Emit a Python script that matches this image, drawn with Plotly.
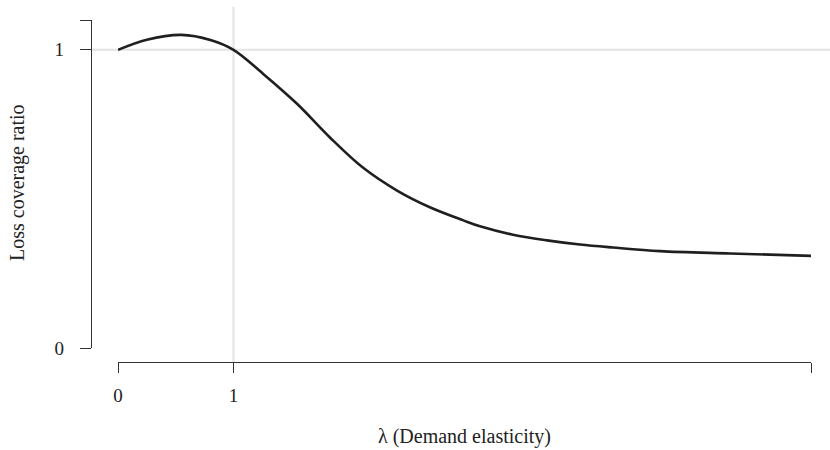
import plotly.graph_objects as go

# Demand elasticity (lambda) and loss coverage ratio
lam = [0.0, 0.25, 0.55, 0.8, 1.0, 1.255, 1.55, 1.835, 2.12, 2.416, 2.70, 2.99,
       3.134, 3.42, 3.714, 4.0, 4.286, 4.693, 5.3, 6.0]
ratio = [1.000, 1.034, 1.050, 1.033, 1.000, 0.920, 0.819, 0.706, 0.605, 0.528,
         0.472, 0.428, 0.408, 0.380, 0.361, 0.347, 0.337, 0.325, 0.317, 0.309]

x_tickvals = [0, 1, 6]
x_ticktext = ["0", "1", ""]
y_tickvals = [0, 1, 1.1]
y_ticktext = ["0", "1", ""]

W, H = 830, 450
FONT = "Liberation Serif, Times New Roman, serif"

fig = go.Figure()
fig.add_trace(go.Scatter(
    x=lam, y=ratio, mode="lines",
    line=dict(color="#1f1f1f", width=2.6, shape="spline", smoothing=1.0),
    cliponaxis=False, showlegend=False, hoverinfo="skip",
))

# reference lines at lambda = 1 and ratio = 1
fig.add_shape(type="line", xref="paper", yref="y", x0=91 / W, x1=1.0, y0=1, y1=1,
              line=dict(color="#e3e3e3", width=2), layer="below")
fig.add_shape(type="line", xref="x", yref="paper", x0=1, x1=1,
              y0=1 - 362 / H, y1=1 - 7 / H,
              line=dict(color="#e3e3e3", width=2), layer="below")

axis_common = dict(
    showgrid=False, zeroline=False, showline=True, linecolor="#333333",
    linewidth=1.3, ticks="outside", tickcolor="#333333", tickwidth=1.3,
    tickfont=dict(family=FONT, size=19, color="#222222"), anchor="free",
    automargin=False,
)

fig.update_layout(
    width=W, height=H, autosize=False,
    margin=dict(l=0, r=0, t=0, b=0, pad=0),
    paper_bgcolor="white", plot_bgcolor="white",
    xaxis=dict(domain=[118 / W, 811 / W], range=[0, 6], position=1 - 362 / H,
               tickvals=x_tickvals, ticktext=x_ticktext, ticklen=10,
               ticklabelstandoff=6, **axis_common),
    yaxis=dict(domain=[1 - 348 / H, 1 - 20 / H], range=[0, 1.1], position=91 / W,
               tickvals=y_tickvals, ticktext=y_ticktext, ticklen=11,
               ticklabelstandoff=12, **axis_common),
    annotations=[
        dict(text="λ (Demand elasticity)", xref="paper", yref="paper",
             x=464 / W, y=1 - 436 / H, showarrow=False,
             xanchor="center", yanchor="middle",
             font=dict(family=FONT, size=20, color="#222222")),
        dict(text="Loss coverage ratio", xref="paper", yref="paper",
             x=17 / W, y=1 - 183 / H, showarrow=False, textangle=-90,
             xanchor="center", yanchor="middle",
             font=dict(family=FONT, size=20, color="#222222")),
    ],
)

fig.write_html("out.html", post_script="document.body.style.margin='0';",
               config={"displayModeBar": False})
